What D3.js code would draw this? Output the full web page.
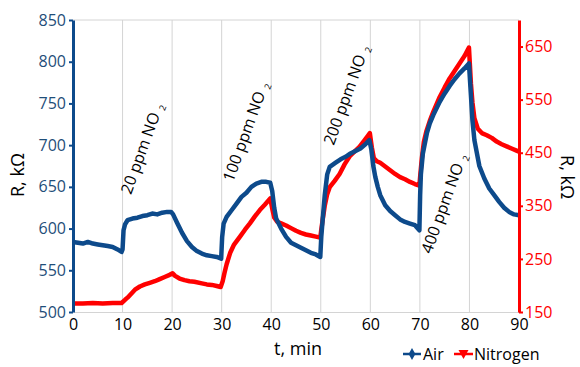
<!DOCTYPE html>
<html>
<head>
<meta charset="utf-8">
<script src="https://cdn.jsdelivr.net/npm/d3@7"></script>
<style>
  body { margin: 0; background: #fff; }
  svg { display: block; font-family: "Open Sans", sans-serif; }
</style>
</head>
<body>
<div id="chart"></div>
<script>
// readings taken off the plot: time in minutes, resistance in kOhm
const airT = [0, 1, 2, 3, 4, 5, 6, 7, 8, 9, 9.8, 10, 10.2, 10.5, 11, 12, 13, 14, 15, 16, 17, 18, 19, 19.8,
  20.2, 21, 22, 23, 24, 25, 26, 27, 28, 29, 29.9, 30.1, 30.4, 31, 32, 33, 34, 35, 36, 37, 38, 39, 39.8,
  40.2, 40.6, 41, 42, 43, 44, 45, 46, 47, 48, 49, 49.9, 50.1, 50.4, 50.8, 51.3, 51.8, 53, 54, 55, 56, 57, 58, 59, 59.8,
  60.2, 60.6, 61, 61.5, 62, 63, 64, 65, 66, 67, 68, 69, 69.9, 70.05, 70.2, 70.6, 71.4, 72, 72.7, 74, 75, 76, 77, 78, 79, 79.9,
  80.3, 80.6, 81, 82, 83, 84, 85, 86, 87, 88, 89, 90];
const airR = [584, 583, 582, 584, 582, 581, 580, 579, 578, 575, 572, 575, 598, 605, 610, 612, 613, 615, 616, 618, 617, 619, 620, 620,
  617, 607, 595, 585, 578, 573, 570, 568, 567, 566, 564, 590, 606, 614, 622, 630, 638, 643, 650, 654, 656, 656, 655,
  645, 625, 612, 600, 590, 583, 580, 577, 574, 571, 569, 566, 590, 612, 640, 665, 674, 679, 683, 686, 690, 693, 696, 701, 706,
  695, 675, 662, 650, 640, 628, 621, 616, 611, 608, 606, 604, 598, 640, 665, 690, 714, 726, 736, 752, 762, 771, 779, 786, 792, 798,
  760, 730, 706, 675, 660, 648, 640, 632, 625, 620, 617, 616];

const nitrogenT = [0, 2, 4, 6, 8, 9.8, 10.5, 11, 11.8, 12.5, 13.5, 14.5, 15.5, 16.5, 17.5, 18.5, 19.5, 20.1,
  20.6, 21.5, 22.5, 23.5, 24.5, 26, 27, 28, 29, 29.8, 30.2, 30.6, 31, 31.7, 32.5, 33.7, 34.7, 35.7, 36.7, 37.7, 38.7, 39.8,
  40.2, 40.6, 41.2, 42, 43, 44, 45, 46, 47, 48, 49, 49.9, 50.1, 50.4, 50.8, 51.3, 51.8, 52.8, 53.8, 54.8, 55.8, 56.8, 57.8, 58.7, 59.5, 59.9,
  60.3, 60.7, 61.3, 62, 63, 64, 65, 66, 67, 68, 69, 69.9, 70.1, 70.4, 70.8, 71.3, 72, 72.7, 74, 75, 76, 77, 78, 79, 79.9,
  80.3, 80.6, 81, 81.7, 82.5, 83.5, 84.5, 85.5, 86.5, 87.5, 88.5, 89.5, 90];
const nitrogenR = [166, 166, 167, 166, 167, 167, 173, 177, 185, 192, 198, 202, 205, 208, 212, 216, 220, 223,
  218, 213, 210, 208, 207, 204, 202, 201, 199, 197, 208, 225, 240, 261, 277, 292, 305, 317, 330, 342, 352, 364,
  345, 328, 320, 317, 313, 308, 303, 299, 296, 294, 292, 290, 305, 325, 350, 372, 385, 397, 410, 428, 443, 452, 461, 472, 482, 487,
  460, 440, 434, 431, 424, 417, 410, 404, 400, 395, 391, 388, 410, 440, 470, 490, 510, 527, 555, 573, 590, 604, 618, 632, 648,
  580, 545, 515, 495, 487, 483, 478, 471, 466, 462, 458, 454, 452];

const timeTicks = [0, 10, 20, 30, 40, 50, 60, 70, 80, 90];
const airTicks = [500, 550, 600, 650, 700, 750, 800, 850];
const nitrogenTicks = [150, 250, 350, 450, 550, 650];

// label text, start time, left-axis value where the rotated text begins
const doseLabels = ['20 ppm NO', '100 ppm NO', '200 ppm NO', '400 ppm NO'];
const doseAtT = [11.7, 32.3, 52.6, 72.3];
const doseAtR = [640, 655, 699, 569];

const series = [
  {name: 'Air', t: airT, r: airR},
  {name: 'Nitrogen', t: nitrogenT, r: nitrogenR}
];

const width = 580, height = 367;
const margin = {top: 20, right: 61, bottom: 55, left: 73};
const blue = '#0d4a8b', red = '#ff0000', grid = '#d4d4d4';

const svg = d3.select('#chart').append('svg')
  .attr('width', width)
  .attr('height', height);

const x = d3.scaleLinear().domain([0, 90]).range([margin.left, width - margin.right]);
const yAir = d3.scaleLinear().domain([500, 850]).range([height - margin.bottom, margin.top]);
const yN2 = d3.scaleLinear().domain([150, 700]).range([height - margin.bottom, margin.top]);

// vertical gridlines and frame top
svg.append('g')
  .selectAll('line')
  .data(timeTicks.slice(1, -1))
  .enter().append('line')
  .attr('x1', d => x(d)).attr('x2', d => x(d))
  .attr('y1', yAir(850)).attr('y2', yAir(500))
  .attr('stroke', grid);
svg.append('line')
  .attr('x1', x(0)).attr('x2', x(90))
  .attr('y1', yAir(850)).attr('y2', yAir(850))
  .attr('stroke', grid);

// bottom axis
const xAxis = svg.append('g')
  .attr('transform', `translate(0,${yAir(500)})`)
  .call(d3.axisBottom(x).tickValues(timeTicks).tickSize(0).tickPadding(7).tickSizeOuter(0));
xAxis.select('.domain').attr('stroke', grid);
xAxis.selectAll('text').attr('font-size', 16).attr('fill', '#000').attr('font-family', '"Open Sans", sans-serif');

// series
const line = d3.line()
  .x(d => x(d[0]))
  .curve(d3.curveLinear);

svg.append('path')
  .datum(d3.zip(nitrogenT, nitrogenR))
  .attr('d', line.y(d => yN2(d[1])))
  .attr('fill', 'none')
  .attr('stroke', red)
  .attr('stroke-width', 4.5)
  .attr('stroke-linejoin', 'round');

svg.append('path')
  .datum(d3.zip(airT, airR))
  .attr('d', line.y(d => yAir(d[1])))
  .attr('fill', 'none')
  .attr('stroke', blue)
  .attr('stroke-width', 4.5)
  .attr('stroke-linejoin', 'round');

// left axis
const leftAxis = svg.append('g')
  .attr('transform', `translate(${x(0)},0)`)
  .call(d3.axisLeft(yAir).tickValues(airTicks).tickSize(4).tickPadding(3).tickSizeOuter(0));
leftAxis.select('.domain').attr('stroke', blue).attr('stroke-width', 3);
leftAxis.selectAll('.tick line').attr('stroke', blue).attr('stroke-width', 2);
leftAxis.selectAll('text').attr('font-size', 16).attr('fill', '#1f4e79').attr('font-family', '"Open Sans", sans-serif');

// right axis
const rightAxis = svg.append('g')
  .attr('transform', `translate(${x(90)},0)`)
  .call(d3.axisRight(yN2).tickValues(nitrogenTicks).tickSize(4).tickPadding(2).tickSizeOuter(0));
rightAxis.select('.domain').attr('stroke', red).attr('stroke-width', 3);
rightAxis.selectAll('.tick line').attr('stroke', red).attr('stroke-width', 2);
rightAxis.selectAll('text').attr('font-size', 16).attr('fill', red).attr('font-family', '"Open Sans", sans-serif');

// axis titles
svg.append('text')
  .attr('transform', `translate(24,175) rotate(-90)`)
  .attr('text-anchor', 'middle')
  .attr('font-size', 18)
  .text('R, kΩ');
svg.append('text')
  .attr('transform', `translate(561,177) rotate(90)`)
  .attr('text-anchor', 'middle')
  .attr('font-size', 18)
  .text('R, kΩ');
svg.append('text')
  .attr('x', 298).attr('y', 355)
  .attr('text-anchor', 'middle')
  .attr('font-size', 18)
  .text('t, min');

// concentration labels
doseLabels.forEach((label, i) => {
  const t = svg.append('text')
    .attr('transform', `translate(${x(doseAtT[i])},${yAir(doseAtR[i])}) rotate(-70)`)
    .attr('font-size', 16)
    .text(label);
  t.append('tspan')
    .attr('dx', 5).attr('dy', 3)
    .attr('font-size', 9)
    .text('2');
});

// legend
const legend = svg.append('g').attr('transform', 'translate(0,354)');
legend.append('line').attr('x1', 403).attr('x2', 421).attr('stroke', blue).attr('stroke-width', 2.5);
legend.append('path').attr('d', d3.symbol(d3.symbolDiamond, 40)()).attr('transform', 'translate(412,0)').attr('fill', blue);
legend.append('text').attr('x', 423).attr('y', 6).attr('font-size', 16).text(series[0].name);
legend.append('line').attr('x1', 454).attr('x2', 473).attr('stroke', red).attr('stroke-width', 2.5);
legend.append('path').attr('d', 'M-5,-4L5,-4L0,5Z').attr('transform', 'translate(463.5,0)').attr('fill', red);
legend.append('text').attr('x', 474).attr('y', 6).attr('font-size', 16).text(series[1].name);
</script>
</body>
</html>
